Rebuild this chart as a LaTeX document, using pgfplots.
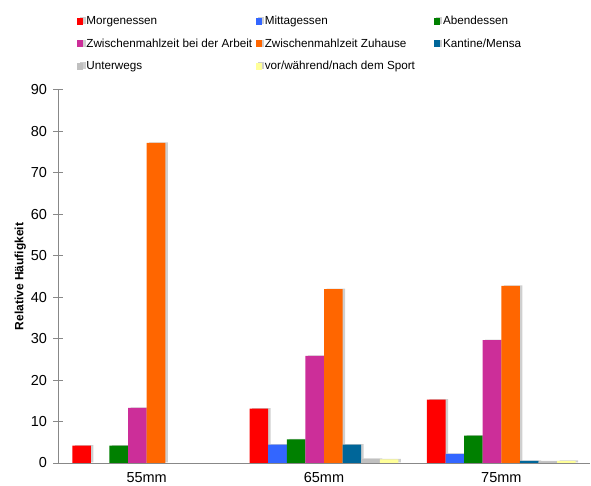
\documentclass[border=0pt]{standalone}
\usepackage{fontspec}
\setmainfont{Liberation Sans}
\usepackage{pgfplots}
\pgfplotsset{compat=1.18}
\usetikzlibrary{shadows}

\definecolor{cMorgen}{HTML}{FF0000}
\definecolor{cMittag}{HTML}{3366FF}
\definecolor{cAbend}{HTML}{008000}
\definecolor{cArbeit}{HTML}{CC2E99}
\definecolor{cZuhause}{HTML}{FF6600}
\definecolor{cKantine}{HTML}{006699}
\definecolor{cUnterwegs}{HTML}{C0C0C0}
\definecolor{cSport}{HTML}{FFFF99}
\definecolor{axgray}{HTML}{888888}

\newcommand{\legtxt}[1]{\makebox[166pt][l]{#1}}

\begin{document}
\begin{tikzpicture}
\begin{axis}[
    scale only axis,
    width=532pt, height=373.3pt,
    ybar=0pt, bar width=18.6pt,
    xmin=-0.5, xmax=2.5,
    ymin=0, ymax=90,
    xtick={0,1,2},
    xticklabels={55mm,65mm,75mm},
    ytick={0,10,...,90},
    axis x line=bottom, axis y line=left,
    axis line style={-, axgray, line width=0.8pt},
    x tick style={draw=none},
    y tick style={axgray, line width=0.8pt},
    major tick length=9pt,
    tick align=center,
    /pgf/number format/assume math mode=true,
    tick label style={font=\fontsize{14.5pt}{16pt}\selectfont, text=black},
    yticklabel style={xshift=-3pt},
    xticklabel style={yshift=-1pt},
    ylabel={\textbf{Relative Häufigkeit}},
    ylabel style={font=\fontsize{12pt}{14pt}\selectfont, yshift=-2pt},
    every axis plot/.append style={draw=none, drop shadow={shadow xshift=2.5pt, shadow yshift=0.5pt, opacity=0.38}},
    legend columns=3,
    legend cell align=left,
    legend style={draw=none, fill=none, at={(0.030,1.211)}, anchor=north west,
        font=\fontsize{11.7pt}{13pt}\selectfont,
        nodes={inner sep=3.2pt},
        row sep=6pt, column sep=0pt},
    legend image code/.code={\fill[#1] (0pt,-3.5pt) rectangle (6pt,3.5pt);},
]
\addplot[fill=cMorgen] coordinates {(0,4.2) (1,13.1) (2,15.3)};
\addlegendentry{\legtxt{Morgenessen}}
\addplot[fill=cMittag] coordinates {(1,4.4) (2,2.2)};
\addlegendentry{\legtxt{Mittagessen}}
\addplot[fill=cAbend] coordinates {(0,4.2) (1,5.7) (2,6.6)};
\addlegendentry{\legtxt{Abendessen}}
\addplot[fill=cArbeit] coordinates {(0,13.3) (1,25.8) (2,29.6)};
\addlegendentry{\legtxt{Zwischenmahlzeit bei der Arbeit}}
\addplot[fill=cZuhause] coordinates {(0,77.2) (1,41.9) (2,42.7)};
\addlegendentry{\legtxt{Zwischenmahlzeit Zuhause}}
\addplot[fill=cKantine] coordinates {(1,4.4) (2,0.5)};
\addlegendentry{\legtxt{Kantine/Mensa}}
\addplot[fill=cUnterwegs] coordinates {(1,1.0) (2,0.4)};
\addlegendentry{\legtxt{Unterwegs}}
\addplot[fill=cSport] coordinates {(1,0.9) (2,0.5)};
\addlegendentry{\legtxt{vor/während/nach dem Sport}}
\end{axis}
\pgfresetboundingbox
\path[use as bounding box] (-58pt,-23pt) rectangle (533pt,463pt);
\end{tikzpicture}
\end{document}
